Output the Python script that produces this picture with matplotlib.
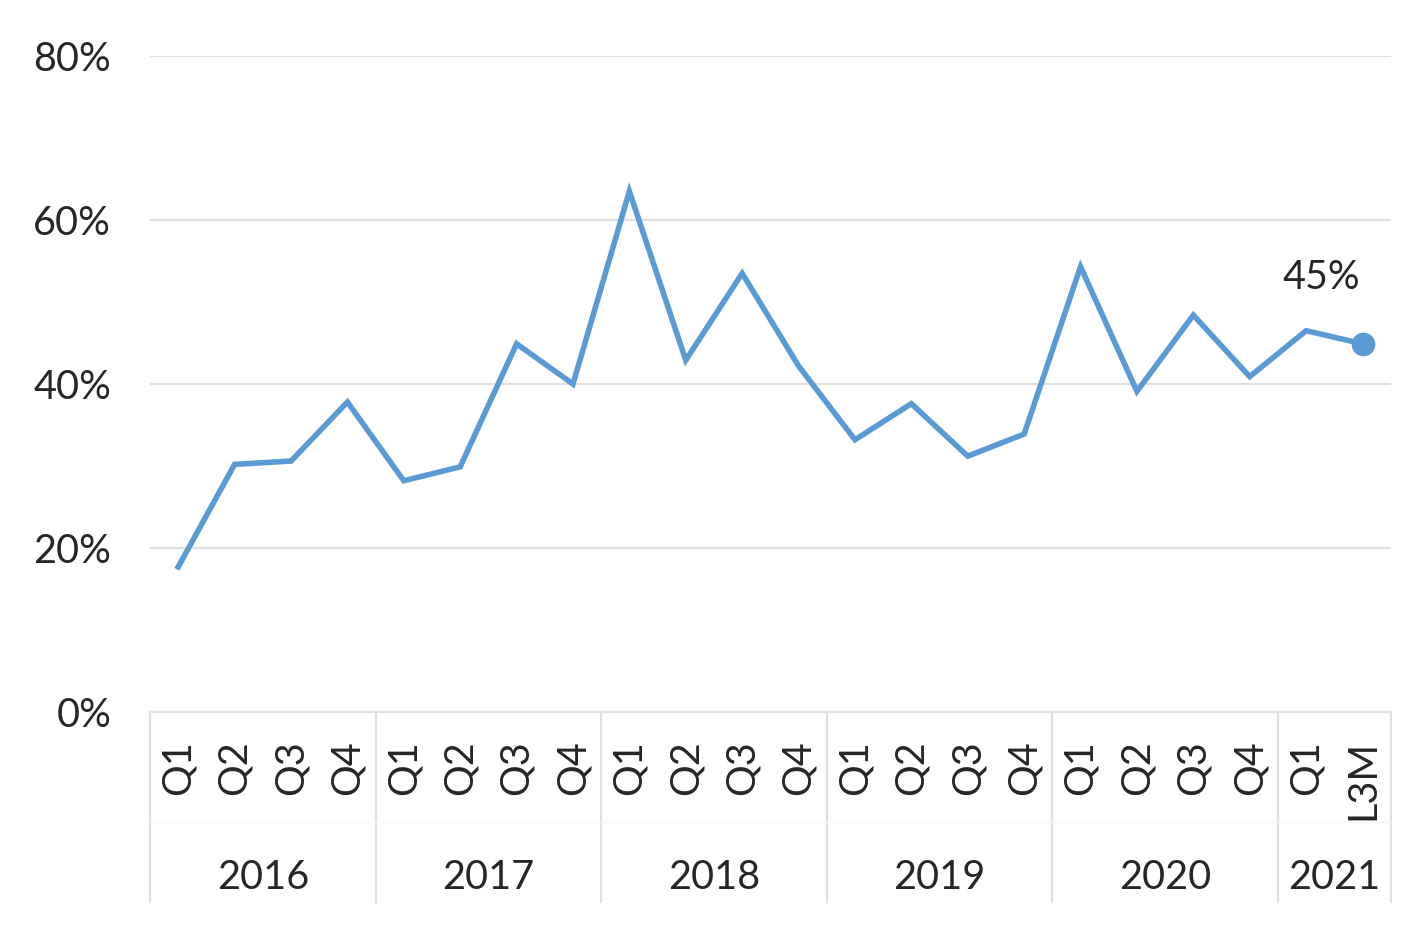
import matplotlib.pyplot as plt
import matplotlib.transforms as mtransforms

plt.rcParams['font.family'] = ['Lato', 'DejaVu Sans']

quarters = ['Q1', 'Q2', 'Q3', 'Q4',
            'Q1', 'Q2', 'Q3', 'Q4',
            'Q1', 'Q2', 'Q3', 'Q4',
            'Q1', 'Q2', 'Q3', 'Q4',
            'Q1', 'Q2', 'Q3', 'Q4',
            'Q1', 'L3M']
years = ['2016', '2017', '2018', '2019', '2020', '2021']
year_sizes = [4, 4, 4, 4, 4, 2]
values = [17.7, 30.2, 30.6, 37.8,
          28.2, 29.9, 44.9, 40.0,
          63.5, 42.9, 53.5, 42.2,
          33.2, 37.6, 31.2, 33.9,
          54.3, 39.1, 48.4, 40.9,
          46.5, 44.9]

line_color = '#5B9BD5'
grid_color = '#E0E0E0'
text_color = '#262626'
fs = 28.5

fig = plt.figure(figsize=(14.22, 9.3), dpi=100)
ax = fig.add_axes([0.1055, 0.2344, 0.8725, 0.7054])

x = list(range(len(values)))
ax.plot(x, values, color=line_color, lw=4, solid_joinstyle='miter', zorder=3)
ax.plot(x[-1], values[-1], 'o', color=line_color, markersize=16, zorder=4)
ax.annotate(f'{values[-1]:.0f}%', (x[-1], values[-1]), xytext=(-30, 48),
            textcoords='offset points', ha='center', va='center',
            fontsize=fs, color=text_color)

ax.set_xlim(-0.5, len(values) - 0.5)
ax.set_ylim(0, 80)
ax.set_yticks([0, 20, 40, 60, 80])
ax.set_yticklabels([f'{v}%' for v in [0, 20, 40, 60, 80]])
ax.tick_params(axis='y', length=0, pad=28, labelsize=fs, labelcolor=text_color)
ax.grid(axis='y', color=grid_color, lw=1.6)
ax.set_axisbelow(True)
ax.set_xticks([])
for s in ['top', 'right', 'left']:
    ax.spines[s].set_visible(False)
ax.spines['bottom'].set_color(grid_color)
ax.spines['bottom'].set_linewidth(1.6)

trans = mtransforms.blended_transform_factory(ax.transData, ax.transAxes)
for i, q in enumerate(quarters):
    ax.text(i, -0.043, q, transform=trans, rotation=90, ha='center', va='top',
            fontsize=fs, color=text_color)

start = 0
bounds = [-0.5]
for yr, n in zip(years, year_sizes):
    center = start + (n - 1) / 2
    ax.text(center, -0.252, yr, transform=trans, ha='center', va='center',
            fontsize=fs, color=text_color)
    start += n
    bounds.append(start - 0.5)
for b in bounds:
    ax.plot([b, b], [0, -0.29], transform=trans, color=grid_color, lw=1.6,
            clip_on=False)
ax.plot([-0.5, len(values) - 0.5], [-0.168, -0.168], transform=trans,
        color='#F6F6F6', lw=1, clip_on=False)

fig.savefig('out.png', dpi=100)
